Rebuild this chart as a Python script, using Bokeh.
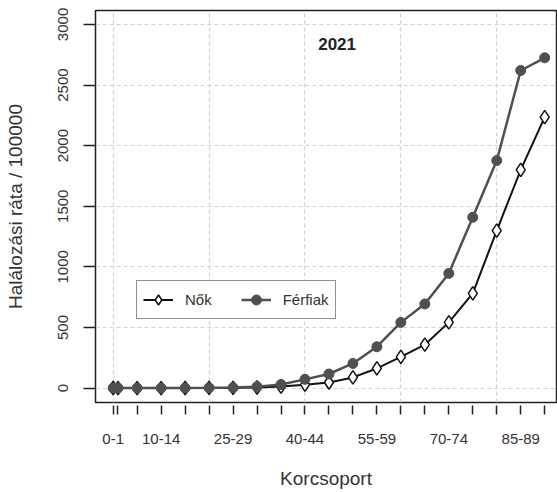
from bokeh.plotting import figure
from bokeh.models import FixedTicker, Legend, LegendItem, Label, Range1d
from bokeh.embed import file_html
from bokeh.resources import INLINE

age_groups = ["0-1", "1-4", "5-9", "10-14", "15-19", "20-24", "25-29", "30-34",
              "35-39", "40-44", "45-49", "50-54", "55-59", "60-64", "65-69",
              "70-74", "75-79", "80-84", "85-89", "90+"]
age_pos = [0, 1, 5, 10, 15, 20, 25, 30, 35, 40, 45, 50, 55, 60, 65, 70, 75, 80, 85, 90]
labeled_groups = ["0-1", "10-14", "25-29", "40-44", "55-59", "70-74", "85-89"]

women = [0.5, 0.2, 0.1, 0.2, 0.5, 1, 2, 5, 12, 28, 46, 88, 162, 258, 358, 542, 781, 1299, 1800, 2235]
men = [0.5, 0.2, 0.1, 0.2, 0.7, 2, 4, 12, 30, 72, 116, 203, 341, 542, 694, 946, 1409, 1877, 2620, 2725]

y_ticks = [0, 500, 1000, 1500, 2000, 2500, 3000]
x_grid = [0, 20, 40, 60, 80]
title_text = "2021"
x_title = "Korcsoport"
y_title = "Halálozási ráta / 100000"
series_names = ["Nők", "Férfiak"]

FONT = "Liberation Sans"
TXT = "#333333"

p = figure(width=557, height=492,
           x_range=Range1d(-3.69, 92.46), y_range=Range1d(-119, 3115),
           output_backend="svg", toolbar_location=None,
           min_border_left=95, min_border_right=1, min_border_top=10, min_border_bottom=90)

p.background_fill_color = "white"
p.border_fill_color = "white"
p.outline_line_color = "#222222"
p.outline_line_width = 1.5

# axes
xa = p.xaxis[0]
xa.ticker = FixedTicker(ticks=age_pos)
xa.major_label_overrides = {pos: (g if g in labeled_groups else "") for pos, g in zip(age_pos, age_groups)}
xa.minor_tick_line_color = None
xa.axis_line_color = None
xa.major_tick_in = -3
xa.major_tick_out = 12
xa.major_tick_line_color = "#222222"
xa.major_tick_line_width = 1.5
xa.major_label_standoff = 19
xa.major_label_text_font = FONT
xa.major_label_text_font_size = "15px"
xa.major_label_text_color = TXT
xa.axis_label = x_title
xa.axis_label_text_font = FONT
xa.axis_label_text_font_style = "normal"
xa.axis_label_text_font_size = "19px"
xa.axis_label_text_color = TXT
xa.axis_label_standoff = 21

ya = p.yaxis[0]
ya.ticker = FixedTicker(ticks=y_ticks)
ya.minor_tick_line_color = None
ya.axis_line_color = None
ya.major_tick_in = 0
ya.major_tick_out = 12
ya.major_tick_line_color = "#222222"
ya.major_tick_line_width = 1.5
ya.major_label_orientation = "vertical"
ya.major_label_standoff = 15
ya.major_label_text_font = FONT
ya.major_label_text_font_size = "15px"
ya.major_label_text_color = TXT
ya.axis_label = y_title
ya.axis_label_text_font = FONT
ya.axis_label_text_font_style = "normal"
ya.axis_label_text_font_size = "19px"
ya.axis_label_text_color = TXT
ya.axis_label_standoff = 30

# grid
p.xgrid.ticker = FixedTicker(ticks=x_grid)
p.ygrid.ticker = FixedTicker(ticks=y_ticks)
for g in (p.xgrid[0], p.ygrid[0]):
    g.grid_line_color = "#d2d2d2"
    g.grid_line_dash = "4 3"
    g.grid_line_width = 1.2

# series
wl = p.line(age_pos, women, line_color="#111111", line_width=2)
ws = p.scatter(age_pos, women, marker="diamond", size=13.5,
               fill_color="white", line_color="#111111", line_width=1.5)
ml = p.line(age_pos, men, line_color="#505050", line_width=2.5)
ms = p.scatter(age_pos, men, marker="circle", size=10,
               fill_color="#505050", line_color="#505050")

legend = Legend(items=[LegendItem(label=series_names[0], renderers=[wl, ws]),
                       LegendItem(label=series_names[1], renderers=[ml, ms])],
                location=(41, 83), orientation="horizontal",
                glyph_width=30, glyph_height=25, label_height=25,
                label_standoff=12, spacing=29, padding=6, margin=0,
                border_line_color="#222222", border_line_width=1.5,
                label_text_font=FONT, label_text_font_size="15px",
                label_text_color=TXT, background_fill_alpha=1)
p.add_layout(legend)

p.add_layout(Label(x=46.7, y=2840, text=title_text, text_align="center",
                   text_baseline="middle", text_font=FONT, text_font_size="17px",
                   text_font_style="bold", text_color="#222222"))

open("out.html", "w").write(file_html(p, INLINE))
